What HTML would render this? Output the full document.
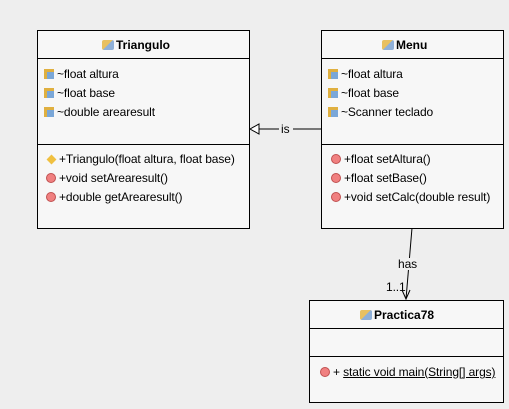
<!DOCTYPE html>
<html><head><style>
body{margin:0;width:509px;height:409px;background:#eeeeee;position:relative;overflow:hidden;font-family:"Liberation Sans",sans-serif;font-size:11px;color:#000}
.box{position:absolute;background:#f7f7f7;border:1px solid #000;box-sizing:border-box}
.sep{position:absolute;left:0;right:0;border-top:1px solid #000}
.t{position:absolute;white-space:nowrap;line-height:12px}
.r{font-size:12px;letter-spacing:-0.1px}
.hd{font-weight:bold;font-size:12px}
.fi{display:inline-block;width:10px;height:10px;vertical-align:-1px;margin-right:3px;background:linear-gradient(#7aa7d8,#7aa7d8) 3px 3px/7px 7px no-repeat,#e0b040;border:0}
.mi{display:inline-block;width:8px;height:8px;border-radius:50%;background:#f08080;border:1px solid #c05050;vertical-align:-1px;margin-right:3px}
.ci{display:inline-block;width:7px;height:7px;background:#f0c040;transform:rotate(45deg);margin:0 4px 0 2px;vertical-align:0}
.cl{display:inline-block;width:12px;height:10px;vertical-align:-1px;margin-right:2px;background:linear-gradient(135deg,#e8c060 50%,#8fb0d8 50%);border-radius:2px;position:relative}
</style></head><body>
<svg width="509" height="409" style="position:absolute;left:0;top:0">
<line x1="321" y1="129" x2="259" y2="129" stroke="#000"/>
<polygon points="250,129 259,124 259,134" fill="#fff" stroke="#000"/>
<rect x="279" y="123" width="14" height="12" fill="#eeeeee"/>
<line x1="412" y1="228" x2="406" y2="299" stroke="#000"/>
<polyline points="402,290 406,299 410,290" fill="none" stroke="#000"/>
</svg>
<div class="t r" style="left:281px;top:123px">is</div>
<div class="t r" style="left:398px;top:258px;background:#f0f0f0">has</div>
<div class="t r" style="left:386px;top:281px">1..1</div>

<div class="box" style="left:37px;top:30px;width:213px;height:199px">
<div class="t hd" style="left:64px;top:8px"><span class="cl"></span>Triangulo</div>
<div class="sep" style="top:27px"></div>
<div class="t r" style="left:6px;top:37px"><span class="fi"></span>~float altura</div>
<div class="t r" style="left:6px;top:56px"><span class="fi"></span>~float base</div>
<div class="t r" style="left:6px;top:75px"><span class="fi"></span>~double arearesult</div>
<div class="sep" style="top:113px"></div>
<div class="t r" style="left:8px;top:122px"><span class="ci"></span>+Triangulo(float altura, float base)</div>
<div class="t r" style="left:8px;top:141px"><span class="mi"></span>+void setArearesult()</div>
<div class="t r" style="left:8px;top:160px"><span class="mi"></span>+double getArearesult()</div>
</div>

<div class="box" style="left:321px;top:30px;width:183px;height:199px">
<div class="t hd" style="left:60px;top:8px"><span class="cl"></span>Menu</div>
<div class="sep" style="top:27px"></div>
<div class="t r" style="left:6px;top:37px"><span class="fi"></span>~float altura</div>
<div class="t r" style="left:6px;top:56px"><span class="fi"></span>~float base</div>
<div class="t r" style="left:6px;top:75px"><span class="fi"></span>~Scanner teclado</div>
<div class="sep" style="top:113px"></div>
<div class="t r" style="left:9px;top:122px"><span class="mi"></span>+float setAltura()</div>
<div class="t r" style="left:9px;top:141px"><span class="mi"></span>+float setBase()</div>
<div class="t r" style="left:9px;top:160px"><span class="mi"></span>+void setCalc(double result)</div>
</div>

<div class="box" style="left:309px;top:300px;width:195px;height:103px">
<div class="t hd" style="left:50px;top:8px"><span class="cl"></span>Practica78</div>
<div class="sep" style="top:27px"></div>
<div class="sep" style="top:55px"></div>
<div class="t r" style="left:10px;top:65px"><span class="mi"></span>+ <u>static void main(String[] args)</u></div>
</div>
</body></html>
